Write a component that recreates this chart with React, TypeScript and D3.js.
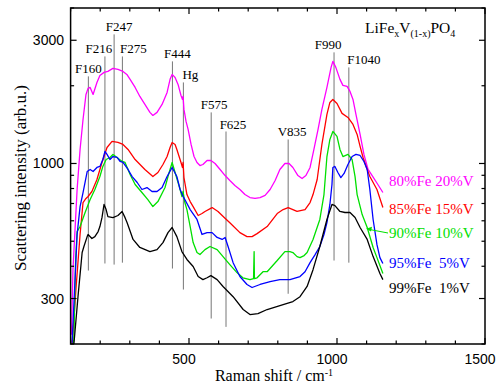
import React from "react";
import * as d3 from "d3";

// Raman spectra of LiFe(x)V(1-x)PO4, [shift cm-1, intensity arb.u.]
const fe80: [number, number][] = [
  [103, 217], [108, 388], [115, 555], [122, 793], [132, 1133], [142, 1481], [152, 1851], [159, 1953], [166, 1970],
  [176, 1851], [189, 2060], [199, 2193], [213, 2253], [226, 2273], [243, 2336], [260, 2314], [277, 2273], [290, 2213],
  [301, 2117], [318, 1970], [334, 1818], [351, 1693], [368, 1577], [378, 1535], [392, 1577], [409, 1693], [426, 1884],
  [436, 2117], [443, 2213], [453, 2154], [463, 2024], [473, 1834], [478, 1770], [480, 1818], [483, 1620], [490, 1455],
  [497, 1355], [507, 1185], [517, 1064], [527, 1009], [537, 982], [547, 991], [561, 1027], [574, 1027], [588, 1000],
  [605, 948], [622, 898], [638, 859], [655, 822], [672, 793], [689, 758], [706, 738], [723, 732], [740, 738],
  [757, 752], [774, 793], [791, 859], [807, 948], [824, 1000], [838, 1000], [851, 965], [868, 898], [882, 875],
  [895, 898], [909, 965], [922, 1133], [936, 1355], [949, 1620], [966, 1970], [980, 2356], [986, 2485], [996, 2356],
  [1010, 2117], [1020, 2006], [1034, 1988], [1044, 1901], [1054, 1770], [1064, 1549], [1078, 1296], [1091, 1084],
  [1105, 948], [1121, 890], [1138, 829], [1155, 772],
];

const fe85: [number, number][] = [
  [105, 198], [118, 325], [132, 531], [142, 706], [152, 732], [159, 745], [172, 779], [189, 867], [206, 1009],
  [223, 1153], [240, 1217], [260, 1206], [277, 1185], [294, 1133], [318, 1036], [351, 948], [378, 890], [395, 923],
  [412, 991], [426, 1064], [436, 1153], [443, 1206], [453, 1185], [459, 1133], [473, 1009], [478, 965], [480, 1009],
  [483, 882], [493, 758], [504, 712], [514, 681], [531, 629], [544, 640], [554, 652], [578, 675], [598, 652],
  [619, 618], [638, 590], [672, 540], [696, 521], [713, 521], [730, 535], [764, 570], [798, 640], [818, 663],
  [835, 675], [851, 663], [865, 652], [892, 663], [909, 706], [919, 758], [933, 867], [949, 1185], [966, 1549],
  [976, 1723], [986, 1770], [1000, 1708], [1017, 1563], [1037, 1508], [1054, 1416], [1068, 1296], [1078, 1164],
  [1088, 1055], [1102, 948], [1111, 890], [1135, 793], [1155, 675],
];

const fe90: [number, number][] = [
  [108, 199], [111, 208], [117, 425], [122, 545], [132, 570], [149, 646], [166, 725], [182, 793], [199, 890],
  [209, 974], [220, 1036], [233, 1055], [243, 1084], [257, 1055], [274, 1018], [284, 1009], [301, 906], [318, 829],
  [341, 772], [361, 725], [378, 681], [395, 712], [419, 807], [429, 890], [443, 1009], [453, 923], [470, 793],
  [476, 745], [480, 779], [486, 706], [493, 663], [504, 570], [514, 494], [527, 452], [537, 444], [554, 464],
  [571, 477], [595, 464], [615, 436], [638, 406], [662, 378], [682, 361], [706, 355], [718, 358], [720, 456],
  [721, 358], [730, 361], [750, 381], [764, 381], [798, 421], [824, 456], [841, 456], [851, 452], [865, 436],
  [875, 432], [889, 440], [899, 452], [919, 508], [942, 607], [956, 758], [966, 1064], [976, 1239], [986, 1331],
  [1000, 1273], [1010, 1133], [1020, 1064], [1037, 1084], [1051, 1036], [1061, 890], [1068, 758], [1085, 634],
  [1102, 565], [1122, 473], [1135, 432], [1155, 375],
];

const fe95: [number, number][] = [
  [105, 202], [115, 355], [122, 531], [132, 681], [142, 772], [156, 931], [166, 948], [176, 931], [189, 965],
  [199, 974], [209, 1036], [216, 1113], [223, 1084], [233, 1036], [243, 1064], [257, 1055], [267, 1018], [277, 1009],
  [294, 948], [308, 890], [325, 844], [341, 793], [358, 807], [375, 779], [392, 779], [409, 807], [426, 890],
  [443, 965], [459, 890], [470, 793], [480, 745], [486, 725], [504, 663], [527, 607], [544, 531], [561, 540],
  [578, 540], [595, 517], [612, 508], [622, 517], [632, 477], [649, 413], [672, 365], [696, 340], [713, 331],
  [740, 340], [774, 349], [807, 355], [841, 355], [875, 365], [892, 381], [909, 413], [926, 444], [942, 477],
  [956, 531], [966, 590], [976, 694], [983, 829], [986, 965], [993, 974], [1003, 923], [1013, 882], [1024, 915],
  [1037, 991], [1051, 1064], [1064, 1084], [1078, 1074], [1091, 1018], [1102, 948], [1111, 793], [1122, 607],
  [1135, 485], [1145, 432], [1155, 410],
];

const fe99: [number, number][] = [
  [111, 199], [125, 305], [139, 452], [145, 477], [156, 521], [159, 531], [172, 512], [182, 521], [193, 545],
  [199, 570], [206, 617], [213, 694], [220, 663], [226, 623], [243, 617], [260, 629], [274, 652], [284, 617],
  [291, 590], [311, 508], [334, 473], [368, 456], [392, 464], [412, 494], [429, 540], [443, 565], [459, 521],
  [476, 456], [493, 425], [514, 399], [531, 365], [547, 355], [561, 361], [574, 368], [595, 355], [615, 334],
  [649, 305], [683, 272], [706, 260], [733, 262], [764, 272], [818, 284], [851, 292], [875, 305], [899, 334],
  [919, 388], [942, 477], [966, 607], [983, 694], [993, 687], [1010, 652], [1027, 646], [1044, 646], [1061, 618],
  [1078, 565], [1102, 508], [1122, 436], [1145, 375], [1155, 355],
];

const seriesNames = ["80%Fe 20%V", "85%Fe 15%V", "90%Fe 10%V", "95%Fe  5%V", "99%Fe  1%V"];
const seriesData = [fe80, fe85, fe90, fe95, fe99];

// peak markers: label, shift, and the intensity range of the guide line
const peakNames = ["F160", "F216", "F247", "F275", "F444", "Hg", "F575", "F625", "V835", "F990", "F1040"];
const peakShifts = [160, 216, 247, 275, 444, 481, 575, 625, 835, 990, 1040];
const peakTop = [2174, 2597, 3162, 2597, 2485, 2060, 1577, 1330, 1239, 2693, 2355];
const peakBottom = [385, 410, 406, 413, 392, 325, 251, 233, 313, 421, 413];

const xTicks = d3.range(100, 1501, 100);
const xLabels = [500, 1000, 1500];
const yTicks = [200, 300, 400, 500, 600, 700, 800, 900, 1000, 2000, 3000, 4000];
const yLabels = [300, 1000, 3000];

export default function App() {
  const width = 499;
  const height = 385;
  const left = 70.6, right = 485, top = 8, bottom = 344;

  const x = d3.scaleLinear().domain([100, 1500]).range([left, right]);
  const y = d3.scaleLog().domain([200, 4000]).range([bottom, top]);

  const line = d3
    .line<[number, number]>()
    .x(d => x(d[0]))
    .y(d => y(d[1]));

  const colors = ["#ff00ff", "#ff0000", "#00e000", "#0000ff", "#000000"];
  const legendY = [186, 214, 238, 268, 293];
  const labelDx = [0, -6, 5, 11, 5, 7, 3, 7, 4, -6, 15];
  const serif = "'Liberation Serif', 'Times New Roman', serif";
  const sans = "'Liberation Sans', Arial, sans-serif";

  return (
    <svg width={width} height={height} style={{ position: "absolute", left: 0, top: 0, background: "#fff" }}>
      <defs>
        <clipPath id="plot">
          <rect x={left} y={top} width={right - left} height={bottom - top} />
        </clipPath>
      </defs>

      {/* guide lines at peak positions */}
      {peakShifts.map((s, i) => (
        <line key={"pl" + i} x1={x(s)} x2={x(s)} y1={y(peakTop[i])} y2={y(peakBottom[i])}
          stroke="#666" strokeWidth={0.9} />
      ))}

      <g clipPath="url(#plot)">
        {seriesData.map((d, i) => (
          <path key={"s" + i} d={line(d) || ""} fill="none" stroke={colors[i]} strokeWidth={1.3}
            strokeLinejoin="round" />
        ))}
      </g>

      {/* peak labels */}
      {peakNames.map((n, i) => (
        <text key={"pt" + i} x={x(peakShifts[i]) + labelDx[i]} y={y(peakTop[i]) - 3}
          textAnchor="middle" fontFamily={serif} fontSize={13}>{n}</text>
      ))}

      {/* frame */}
      <rect x={left} y={top} width={right - left} height={bottom - top} fill="none" stroke="#000" strokeWidth={1.5} />

      {xTicks.map(t => {
        const len = t % 500 === 0 ? 6 : 3.5;
        return (
          <g key={"xt" + t}>
            <line x1={x(t)} x2={x(t)} y1={bottom} y2={bottom - len} stroke="#000" strokeWidth={1.2} />
            <line x1={x(t)} x2={x(t)} y1={top} y2={top + len} stroke="#000" strokeWidth={1.2} />
          </g>
        );
      })}
      {yTicks.map(t => {
        const len = yLabels.includes(t) ? 6 : 3.5;
        return (
          <g key={"yt" + t}>
            <line x1={left} x2={left + len} y1={y(t)} y2={y(t)} stroke="#000" strokeWidth={1.2} />
            <line x1={right} x2={right - len} y1={y(t)} y2={y(t)} stroke="#000" strokeWidth={1.2} />
          </g>
        );
      })}
      {xLabels.map(t => (
        <text key={"xl" + t} x={x(t) - 5} y={364} textAnchor="middle" fontFamily={sans} fontSize={14}>{t}</text>
      ))}
      {yLabels.map(t => (
        <text key={"yl" + t} x={64} y={y(t) + 5} textAnchor="end" fontFamily={sans} fontSize={14}>{t}</text>
      ))}

      {/* axis titles */}
      <text x={274} y={381} textAnchor="middle" fontFamily={serif} fontSize={16}>
        Raman shift / cm<tspan dy={-5} fontSize={10}>-1</tspan>
      </text>
      <text transform="translate(26,178) rotate(-90)" textAnchor="middle" fontFamily={serif} fontSize={17}>
        Scattering intensity (arb.u.)
      </text>

      {/* compound title */}
      <text x={365} y={33} fontFamily={serif} fontSize={15.5}>
        LiFe<tspan dy={4} fontSize={10}>x</tspan>
        <tspan dy={-4}>V</tspan>
        <tspan dy={4} fontSize={10}>(1-x)</tspan>
        <tspan dy={-4}>PO</tspan>
        <tspan dy={4} fontSize={10}>4</tspan>
      </text>

      {/* series labels */}
      {seriesNames.map((n, i) => (
        <text key={"lg" + i} x={389} y={legendY[i]} fontFamily={serif} fontSize={15} fill={colors[i]}
          style={{ whiteSpace: "pre" }}>{n}</text>
      ))}
      <line x1={388} y1={233} x2={369} y2={229.4} stroke={colors[2]} strokeWidth={1} />
      <path d="M366,228.8 L372,226.8 L371,231.6 Z" fill={colors[2]} />
    </svg>
  );
}
